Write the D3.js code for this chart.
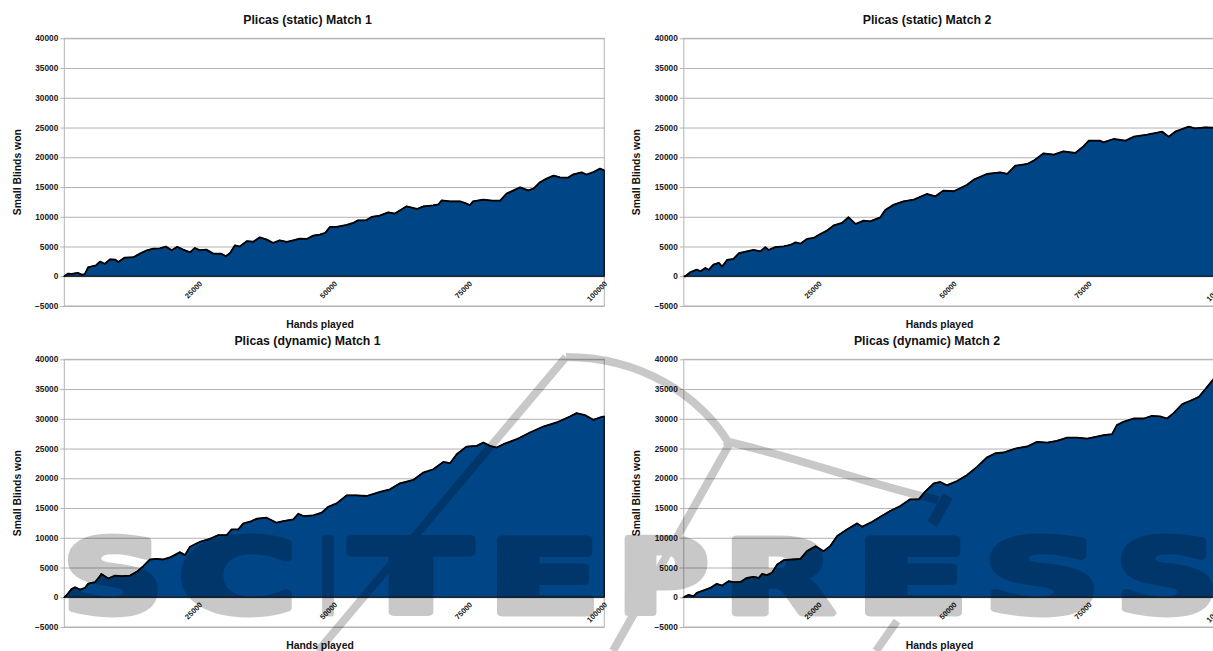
<!DOCTYPE html>
<html>
<head>
<meta charset="utf-8">
<script src="https://cdn.jsdelivr.net/npm/d3@7"></script>
<style>
  body { margin: 0; background: #fff; }
  svg { display: block; font-family: "Liberation Sans", Arial, sans-serif; }
</style>
</head>
<body>
<svg id="chart" width="1213" height="651"></svg>
<script>
// Axis ticks
const yTicks = [-5000, 0, 5000, 10000, 15000, 20000, 25000, 30000, 35000, 40000];
const xTicks = [25000, 50000, 75000, 100000];
const xTitle = "Hands played";
const yTitle = "Small Blinds won";
const panelTitles = [
  "Plicas (static) Match 1",
  "Plicas (static) Match 2",
  "Plicas (dynamic) Match 1",
  "Plicas (dynamic) Match 2"
];

// Cumulative small blinds won, as [hands played, small blinds won]
const staticMatch1 = [
  [0,0],[700,450],[1400,400],[2500,560],[3200,280],[3800,350],[4400,1500],[5900,1850],[6600,2460],
  [7500,2100],[8500,2850],[9400,2800],[10000,2400],[11200,3140],[12800,3200],[14000,3800],[15300,4370],
  [16500,4650],[17700,4700],[18800,5000],[19900,4370],[20900,4950],[22000,4480],[23300,4030],[24200,4760],
  [25100,4370],[26300,4480],[27600,3800],[29100,3800],[29900,3360],[30700,3920],[31600,5200],[32500,5000],
  [33800,5900],[35000,5800],[36200,6550],[37500,6160],[38700,5600],[39900,6050],[41200,5770],[42400,6050],
  [43600,6330],[44900,6270],[46100,6830],[47300,7000],[48300,7280],[49200,8290],[50400,8290],[52300,8620],
  [53500,8960],[54400,9400],[55900,9400],[56900,9970],[58400,10190],[60000,10750],[61200,10530],[62200,11090],
  [63400,11760],[65300,11310],[66500,11760],[68300,11930],[69300,12100],[69900,12770],[71400,12600],
  [73300,12600],[74500,12210],[75100,11930],[75700,12600],[77600,12880],[79200,12710],[80700,12710],
  [81900,13890],[83500,14560],[84400,14950],[85900,14450],[86900,14730],[88100,15800],[89300,16410],
  [90600,16910],[91800,16630],[93300,16580],[94300,17130],[95800,17470],[96700,17080],[98000,17530],
  [99200,18090],[100000,17810]
];
const staticMatch2 = [
  [0,0],[300,0],[1200,670],[2400,1120],[3100,840],[4000,1400],[4600,1060],[5500,1960],[6500,2240],
  [7100,1620],[8000,2740],[9200,2910],[10200,3870],[11700,4200],[12900,4420],[14200,4200],[15100,4890],
  [15700,4420],[16900,4890],[18500,5040],[19700,5260],[20700,5710],[21600,5480],[22800,6270],[24000,6440],
  [25300,7110],[26500,7670],[27800,8570],[29300,8960],[30500,9910],[31800,8790],[33300,9350],[34500,9240],
  [36400,9910],[37300,11140],[38900,12040],[40700,12600],[42600,12880],[45000,13830],[46600,13440],
  [48100,14400],[50000,14290],[52400,15350],[53700,16240],[56100,17190],[58600,17470],[59900,17190],
  [61400,18590],[63600,18870],[64800,19430],[66600,20660],[68500,20440],[70300,21000],[72500,20720],
  [74000,21830],[75000,22790],[77100,22790],[77700,22510],[79600,23070],[81800,22790],[83300,23460],
  [85800,23800],[88600,24300],[89800,23460],[91000,24300],[93500,25140],[94700,24860],[96600,25030],
  [98100,24970],[100000,25000]
];
const dynamicMatch1 = [
  [0,0],[430,340],[1360,1400],[1980,1690],[2900,1290],[3830,1570],[4440,2300],[5680,2530],[6600,3540],
  [6850,3930],[8150,3150],[9380,3650],[10620,3540],[12160,3650],[13400,4270],[14630,5220],[15860,6350],
  [17100,6460],[18330,6350],[19570,6690],[21420,7580],[22350,7080],[23270,8480],[25120,9330],[26980,9830],
  [28520,10450],[30060,10450],[30990,11400],[32220,11400],[33150,12420],[34380,12700],[35620,13200],
  [37470,13370],[39320,12530],[40560,12810],[42410,13090],[43330,14040],[44260,13650],[46110,13760],
  [47650,14210],[48890,15220],[50430,15780],[52280,17130],[54140,17130],[55990,17020],[58460,17700],
  [60310,18150],[62160,19160],[64630,19720],[66480,20960],[68330,21520],[70190,22750],[71430,22530],
  [72670,24040],[74520,25330],[76370,25450],[77590,26010],[78830,25450],[80070,25170],[81300,25730],
  [83770,26570],[86240,27690],[88700,28700],[91170,29380],[93640,30390],[94880,30950],[96420,30610],
  [97960,29830],[99200,30220],[100000,30390]
];
const dynamicMatch2 = [
  [0,0],[300,170],[900,400],[1800,170],[2400,730],[3700,1180],[4900,1570],[6100,2250],[7100,1970],
  [8300,2700],[9200,2530],[10500,2580],[11700,3260],[12900,3430],[13900,3260],[14500,3930],[15400,3710],
  [16300,4100],[17300,5510],[18500,6240],[20000,6350],[21600,6460],[22800,7750],[24400,8590],[25900,7750],
  [27100,8590],[28400,10280],[30200,11400],[32100,12420],[33000,11850],[34900,12700],[36400,13540],
  [38200,14490],[40100,15340],[41900,16460],[43500,16460],[44700,17750],[46300,19160],[47500,19380],
  [48700,18820],[50600,19550],[52400,20510],[54300,21910],[56100,23480],[57700,24210],[59200,24330],
  [61400,25000],[63600,25340],[65400,26120],[67300,26010],[69100,26290],[71000,26850],[72800,26850],
  [74700,26680],[76500,27020],[77700,27240],[79300,27410],[80200,28930],[81400,29490],[83300,30050],
  [85200,30050],[86700,30500],[88200,30390],[89500,30050],[90700,30950],[92300,32470],[93800,33030],
  [95400,33710],[96600,35000],[98100,36690],[100000,38000]
];

const seriesList = [staticMatch1, staticMatch2, dynamicMatch1, dynamicMatch2];

// Layout of one panel (all panels share it, shifted on a 2x2 grid)
const colStep = 619.5, rowStep = 321;
const plot = { left: 64.3, right: 604.3, top: 38.3, bottom: 306 };
const gridColor = "#b3b3b3";
const fillColor = "#004586";
const labelFont = "Liberation Sans, Arial, sans-serif";

const x = d3.scaleLinear().domain([0, 100000]).range([plot.left, plot.right]);
const y = d3.scaleLinear().domain([-5000, 40000]).range([plot.bottom, plot.top]);

const svg = d3.select("#chart");

seriesList.forEach((series, i) => {
  const col = i % 2, row = Math.floor(i / 2);
  const g = svg.append("g").attr("transform", `translate(${col * colStep},${row * rowStep})`);

  // horizontal grid
  g.append("g")
    .attr("transform", `translate(${plot.left},0)`)
    .call(d3.axisLeft(y).tickValues(yTicks).tickSize(-(plot.right - plot.left)).tickFormat(""))
    .call(s => s.select(".domain").remove())
    .call(s => s.selectAll("line").attr("stroke", gridColor).attr("stroke-width", 1));

  // y axis ticks and labels
  g.append("g")
    .attr("transform", `translate(${plot.left},0)`)
    .call(d3.axisLeft(y).tickValues(yTicks).tickSize(4).tickPadding(2).tickFormat(d3.format("d")))
    .call(s => s.select(".domain").remove())
    .call(s => s.selectAll("line").attr("stroke", gridColor))
    .call(s => s.selectAll("text").attr("font-size", 8.3).attr("font-weight", "bold")
      .attr("fill", "#1a1a1a").attr("font-family", labelFont));

  // plot frame
  g.append("rect")
    .attr("x", plot.left).attr("y", plot.top)
    .attr("width", plot.right - plot.left).attr("height", plot.bottom - plot.top)
    .attr("fill", "none").attr("stroke", gridColor).attr("stroke-width", 1);

  // filled area
  const area = d3.area().x(d => x(d[0])).y0(y(0)).y1(d => y(d[1]));
  g.append("path").datum(series)
    .attr("d", area)
    .attr("fill", fillColor)
    .attr("stroke", "#000").attr("stroke-width", 1.1)
    .attr("stroke-linejoin", "miter");

  const line = d3.line().x(d => x(d[0])).y(d => y(d[1]));
  g.append("path").datum(series)
    .attr("d", line)
    .attr("fill", "none")
    .attr("stroke", "#000").attr("stroke-width", 1.8)
    .attr("stroke-linejoin", "round");

  // x axis labels along the zero line
  g.append("g")
    .attr("transform", `translate(0,${y(0)})`)
    .call(d3.axisBottom(x).tickValues(xTicks).tickSize(0).tickFormat(d3.format("d")))
    .call(s => s.select(".domain").remove())
    .call(s => s.selectAll("text")
      .attr("font-size", 7.5).attr("font-weight", "bold").attr("fill", "#1a1a1a")
      .attr("font-family", labelFont)
      .attr("text-anchor", "end")
      .attr("x", 3).attr("y", 8).attr("dy", 0)
      .attr("transform", "rotate(-45 3 8)"));

  // titles
  g.append("text")
    .attr("x", 307.5).attr("y", 24)
    .attr("text-anchor", "middle")
    .attr("font-size", 12.3).attr("font-weight", "bold").attr("fill", "#111")
    .text(panelTitles[i]);

  g.append("text")
    .attr("x", 320).attr("y", 328)
    .attr("text-anchor", "middle")
    .attr("font-size", 10.4).attr("font-weight", "bold").attr("fill", "#111")
    .text(xTitle);

  g.append("text")
    .attr("transform", `translate(20.5,${(plot.top + plot.bottom) / 2}) rotate(-90)`)
    .attr("text-anchor", "middle")
    .attr("font-size", 10.4).attr("font-weight", "bold").attr("fill", "#111")
    .text(yTitle);
});

// Publisher watermark laid over the page
const wmLetters = [
  ["S", 59, 167], ["C", 175, 300], ["I", 316, 340], ["T", 348, 474], ["E", 484, 604],
  ["P", 614, 712], ["R", 720, 838], ["E", 852, 972], ["S", 980, 1104], ["S", 1112, 1222]
];
const wmStroke = 7;
const wm = svg.append("g").attr("opacity", 0.21).attr("pointer-events", "none");
wm.selectAll("text").data(wmLetters).join("text")
  .attr("x", d => d[1] + wmStroke / 2)
  .attr("y", 616 - wmStroke / 2)
  .attr("textLength", d => d[2] - d[1] - wmStroke)
  .attr("lengthAdjust", "spacingAndGlyphs")
  .attr("font-family", "DejaVu Sans, sans-serif")
  .attr("font-weight", "bold")
  .attr("font-size", 102)
  .attr("fill", "#000")
  .attr("stroke", "#000")
  .attr("stroke-width", wmStroke)
  .attr("stroke-linejoin", "round")
  .text(d => d[0]);

const wmStrokes = [
  "M318,651 L566,357",
  "M566,357 C640,357 700,395 730,445",
  "M724,441 C790,455 870,485 938,500",
  "M730,443 L613,651",
  "M897,621 L876,651"
];
wm.selectAll("path.sw").data(wmStrokes).join("path")
  .attr("class", "sw")
  .attr("d", d => d)
  .attr("fill", "none").attr("stroke", "#000").attr("stroke-width", 8)
  .attr("stroke-linejoin", "round");
wm.append("path")
  .attr("d", "M948,496 L932,524")
  .attr("fill", "none").attr("stroke", "#000").attr("stroke-width", 11);
</script>
</body>
</html>
